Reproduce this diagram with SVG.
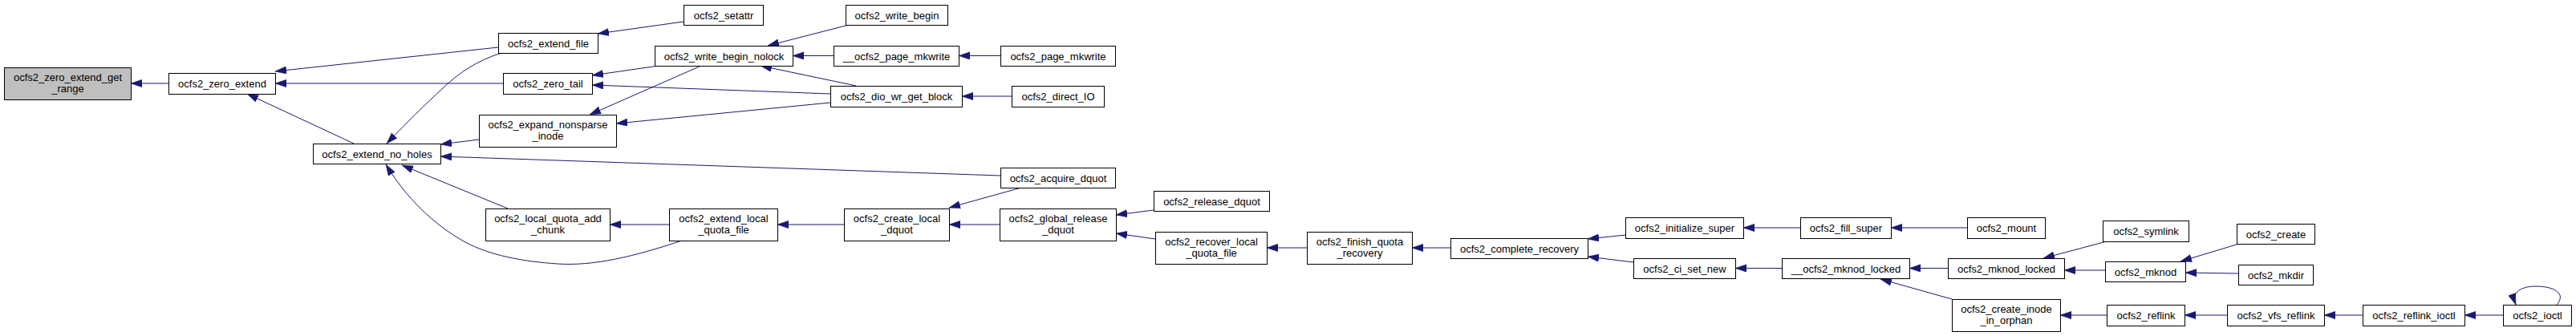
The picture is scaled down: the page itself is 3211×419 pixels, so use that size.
<svg xmlns="http://www.w3.org/2000/svg" width="3211" height="419" viewBox="0 0 3211 419">
<style>
.node rect{fill:#ffffff;stroke:#000000;stroke-width:1}
.node.focus rect{fill:#bfbfbf}
.node text{font-family:"Liberation Sans",Arial,Helvetica,sans-serif;font-size:13px;fill:#000000;text-anchor:middle}
.edges path{fill:none;stroke:#191970;stroke-width:1;marker-end:url(#arr)}
</style>
<defs>
<marker id="arr" markerUnits="userSpaceOnUse" markerWidth="15" markerHeight="11" refX="14" refY="4.7" orient="auto">
<path d="M0,0 L14,4.7 L0,9.4 z" fill="#191970" stroke="#191970" stroke-width="0.5"/>
</marker>
</defs>
<rect width="3211" height="419" fill="#ffffff"/>
<g id="edges" class="edges">
<path d="M210,104 L163,104"/>
<path d="M621,59 L343,89"/>
<path d="M627,104 L343,104"/>
<path d="M441,179 L308,117"/>
<path d="M625,66 C594,76 573,90 552,110 C530,130 505,155 482,179"/>
<path d="M597,174 L549,180"/>
<path d="M1247,219 L549,195"/>
<path d="M633,260 L501,206"/>
<path d="M850,300 C790,320 740,332 695,329 C650,326 610,318 580,302 C540,280 505,245 481,205"/>
<path d="M821,82 L738,94"/>
<path d="M874,82 L735,143"/>
<path d="M1035,117 L738,106"/>
<path d="M1035,128 L768,154"/>
<path d="M1067,107 L948,82"/>
<path d="M1058,31 L957,57"/>
<path d="M1039,69.5 L988,69.5"/>
<path d="M1247,69.5 L1195,69.5"/>
<path d="M1261,120 L1199,120"/>
<path d="M852,27 L745,42"/>
<path d="M834,280 L760,280"/>
<path d="M1052,280 L969,280"/>
<path d="M1273,234 L1183,259"/>
<path d="M1246,280 L1183,280"/>
<path d="M1438,262 L1391,268"/>
<path d="M1440,298 L1391,291"/>
<path d="M1629,309 L1579,309"/>
<path d="M1808,309 L1760,309"/>
<path d="M2026,293 L1979,298"/>
<path d="M2036,327 L1979,320"/>
<path d="M2244,284 L2173,284"/>
<path d="M2452,284 L2357,284"/>
<path d="M2221,334.5 L2163,334.5"/>
<path d="M2428,334.5 L2380,334.5"/>
<path d="M2433,373 L2344,348"/>
<path d="M2626,301 L2547,322"/>
<path d="M2624,337 L2573,337"/>
<path d="M2626,393 L2568,393"/>
<path d="M2791,304 L2718,326"/>
<path d="M2790,341 L2724,340"/>
<path d="M2776,393 L2723,393"/>
<path d="M2945,393 L2897,393"/>
<path d="M3120,393 L3072,393"/>
<path d="M3187,380 C3200,365 3182,357 3161,357 C3143,357 3130,364 3136,380"/>
</g>
<g id="n0" class="node focus"><rect x="5.5" y="84.5" width="158" height="40"/><text x="84.5" y="100.5">ocfs2_zero_extend_get</text><text x="84.5" y="114.5">_range</text></g>
<g id="n1" class="node"><rect x="210.5" y="91.5" width="133" height="26"/><text x="277" y="108.5">ocfs2_zero_extend</text></g>
<g id="n2" class="node"><rect x="390.5" y="179.5" width="159" height="25"/><text x="470" y="196.5">ocfs2_extend_no_holes</text></g>
<g id="n3" class="node"><rect x="621.5" y="41.5" width="124" height="25"/><text x="683.5" y="58.5">ocfs2_extend_file</text></g>
<g id="n4" class="node"><rect x="852.5" y="6.5" width="99" height="25"/><text x="902" y="23.5">ocfs2_setattr</text></g>
<g id="n5" class="node"><rect x="816.5" y="57.5" width="172" height="25"/><text x="902.5" y="74.5">ocfs2_write_begin_nolock</text></g>
<g id="n6" class="node"><rect x="627.5" y="91.5" width="111" height="26"/><text x="683" y="108.5">ocfs2_zero_tail</text></g>
<g id="n7" class="node"><rect x="597.5" y="143.5" width="171" height="40"/><text x="683" y="159.5">ocfs2_expand_nonsparse</text><text x="683" y="173.5">_inode</text></g>
<g id="n8" class="node"><rect x="605.5" y="260.5" width="155" height="40"/><text x="683" y="276.5">ocfs2_local_quota_add</text><text x="683" y="290.5">_chunk</text></g>
<g id="n9" class="node"><rect x="834.5" y="260.5" width="135" height="40"/><text x="902" y="276.5">ocfs2_extend_local</text><text x="902" y="290.5">_quota_file</text></g>
<g id="n10" class="node"><rect x="1054.5" y="6.5" width="127" height="25"/><text x="1118" y="23.5">ocfs2_write_begin</text></g>
<g id="n11" class="node"><rect x="1039.5" y="57.5" width="156" height="25"/><text x="1117.5" y="74.5">__ocfs2_page_mkwrite</text></g>
<g id="n12" class="node"><rect x="1247.5" y="57.5" width="143" height="25"/><text x="1319" y="74.5">ocfs2_page_mkwrite</text></g>
<g id="n13" class="node"><rect x="1035.5" y="107.5" width="164" height="26"/><text x="1117.5" y="124.5">ocfs2_dio_wr_get_block</text></g>
<g id="n14" class="node"><rect x="1261.5" y="107.5" width="115" height="26"/><text x="1319" y="124.5">ocfs2_direct_IO</text></g>
<g id="n15" class="node"><rect x="1247.5" y="209.5" width="143" height="25"/><text x="1319" y="226.5">ocfs2_acquire_dquot</text></g>
<g id="n16" class="node"><rect x="1052.5" y="260.5" width="131" height="40"/><text x="1118" y="276.5">ocfs2_create_local</text><text x="1118" y="290.5">_dquot</text></g>
<g id="n17" class="node"><rect x="1246.5" y="260.5" width="145" height="40"/><text x="1319" y="276.5">ocfs2_global_release</text><text x="1319" y="290.5">_dquot</text></g>
<g id="n18" class="node"><rect x="1438.5" y="238.5" width="144" height="25"/><text x="1510.5" y="255.5">ocfs2_release_dquot</text></g>
<g id="n19" class="node"><rect x="1440.5" y="289.5" width="139" height="40"/><text x="1510" y="305.5">ocfs2_recover_local</text><text x="1510" y="319.5">_quota_file</text></g>
<g id="n20" class="node"><rect x="1629.5" y="289.5" width="131" height="40"/><text x="1695" y="305.5">ocfs2_finish_quota</text><text x="1695" y="319.5">_recovery</text></g>
<g id="n21" class="node"><rect x="1808.5" y="297.5" width="171" height="25"/><text x="1894" y="314.5">ocfs2_complete_recovery</text></g>
<g id="n22" class="node"><rect x="2026.5" y="271.5" width="147" height="26"/><text x="2100" y="288.5">ocfs2_initialize_super</text></g>
<g id="n23" class="node"><rect x="2036.5" y="322.5" width="127" height="25"/><text x="2100" y="339.5">ocfs2_ci_set_new</text></g>
<g id="n24" class="node"><rect x="2244.5" y="271.5" width="113" height="26"/><text x="2301" y="288.5">ocfs2_fill_super</text></g>
<g id="n25" class="node"><rect x="2452.5" y="271.5" width="97" height="26"/><text x="2501" y="288.5">ocfs2_mount</text></g>
<g id="n26" class="node"><rect x="2221.5" y="322.5" width="159" height="25"/><text x="2301" y="339.5">__ocfs2_mknod_locked</text></g>
<g id="n27" class="node"><rect x="2428.5" y="322.5" width="145" height="25"/><text x="2501" y="339.5">ocfs2_mknod_locked</text></g>
<g id="n28" class="node"><rect x="2433.5" y="373.5" width="135" height="40"/><text x="2501" y="389.5">ocfs2_create_inode</text><text x="2501" y="403.5">_in_orphan</text></g>
<g id="n29" class="node"><rect x="2621.5" y="275.5" width="107" height="26"/><text x="2675" y="292.5">ocfs2_symlink</text></g>
<g id="n30" class="node"><rect x="2624.5" y="326.5" width="100" height="25"/><text x="2674.5" y="343.5">ocfs2_mknod</text></g>
<g id="n31" class="node"><rect x="2626.5" y="380.5" width="97" height="26"/><text x="2675" y="397.5">ocfs2_reflink</text></g>
<g id="n32" class="node"><rect x="2788.5" y="279.5" width="97" height="25"/><text x="2837" y="296.5">ocfs2_create</text></g>
<g id="n33" class="node"><rect x="2790.5" y="330.5" width="93" height="25"/><text x="2837" y="347.5">ocfs2_mkdir</text></g>
<g id="n34" class="node"><rect x="2776.5" y="380.5" width="121" height="26"/><text x="2837" y="397.5">ocfs2_vfs_reflink</text></g>
<g id="n35" class="node"><rect x="2945.5" y="380.5" width="127" height="26"/><text x="3009" y="397.5">ocfs2_reflink_ioctl</text></g>
<g id="n36" class="node"><rect x="3120.5" y="380.5" width="85" height="26"/><text x="3163" y="397.5">ocfs2_ioctl</text></g>
</svg>
